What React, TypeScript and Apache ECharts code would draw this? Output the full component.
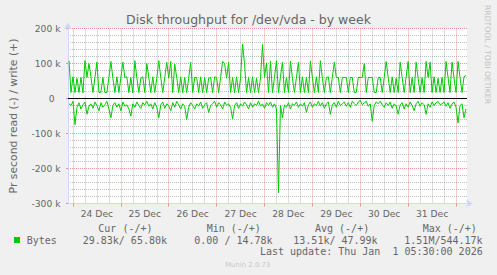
import React, { useEffect, useRef } from 'react';
import * as echarts from 'echarts';

// ---- data ----
const titleText = 'Disk throughput for /dev/vda - by week';
const yAxisName = 'Pr second read (-) / write (+)';
const dayLabels = ['24 Dec', '25 Dec', '26 Dec', '27 Dec', '28 Dec', '29 Dec', '30 Dec', '31 Dec'];
// hours relative to 24 Dec 00:00; one sample per hour
const firstHour = -2;
const rangeStartHour = -2.5;
const rangeEndHour = 197.5;
// write (+), in k bytes/s
const writeK = [
  108, 17, 62, 17, 58, 17, 60, 16, 108, 60, 100, 62, 17, 60, 104, 17, 18, 60, 17, 17,
  60, 106, 58, 17, 62, 17, 60, 104, 60, 62, 17, 60, 16, 108, 60, 17, 58, 62, 17, 100,
  60, 17, 62, 17, 58, 108, 60, 17, 60, 104, 58, 106, 17, 98, 60, 17, 62, 17, 60, 17,
  58, 104, 17, 60, 60, 17, 62, 17, 60, 17, 58, 60, 17, 62, 60, 17, 60, 106, 100, 58,
  104, 17, 60, 17, 62, 17, 58, 156, 98, 17, 60, 17, 62, 17, 58, 17, 60, 154, 60, 102,
  17, 106, 17, 60, 108, 17, 62, 104, 17, 60, 17, 106, 58, 17, 60, 104, 17, 62, 17, 60,
  17, 106, 60, 17, 62, 17, 108, 58, 17, 60, 62, 17, 60, 104, 60, 60, 17, 60, 60, 60,
  17, 60, 60, 17, 17, 60, 60, 60, 100, 17, 60, 60, 60, 17, 17, 60, 60, 17, 60, 106,
  60, 17, 62, 17, 58, 17, 104, 60, 17, 62, 106, 17, 60, 17, 104, 58, 17, 60, 17, 106,
  60, 104, 17, 62, 17, 58, 17, 60, 17, 106, 60, 17, 104, 58, 17, 106, 60, 17, 62, 66,
];
// read (-), in k bytes/s
const readK = [
  -15, -20, -8, -75, -25, -12, -30, -18, -10, -45, -22, -15, -28, -10, -20, -35, -12, -25, -18, -8,
  -30, -55, -20, -12, -25, -15, -35, -10, -22, -18, -30, -50, -15, -25, -10, -20, -28, -12, -18, -8,
  -22, -15, -30, -12, -25, -55, -18, -10, -28, -15, -20, -35, -12, -25, -8, -18, -30, -15, -22, -60,
  -25, -12, -20, -30, -15, -22, -10, -28, -18, -12, -40, -20, -15, -8, -25, -12, -18, -30, -10, -20,
  -15, -25, -58, -20, -12, -28, -15, -22, -10, -18, -30, -12, -25, -15, -20, -8, -22, -15, -28, -12,
  -20, -10, -25, -15, -30, -270, -20, -55, -18, -25, -12, -30, -15, -20, -10, -25, -15, -22, -12, -40,
  -18, -10, -25, -15, -20, -8, -22, -12, -28, -15, -10, -45, -18, -12, -25, -8, -20, -15, -10, -22,
  -12, -25, -8, -15, -20, -10, -5, -18, -12, -8, -22, -15, -65, -20, -10, -15, -8, -18, -25, -12,
  -20, -10, -28, -15, -22, -45, -18, -12, -30, -15, -25, -10, -20, -35, -15, -8, -22, -12, -18, -45,
  -15, -25, -10, -20, -12, -8, -18, -15, -10, -22, -12, -28, -15, -10, -25, -70, -20, -15, -55, -30,
];
const yMin = -300;
const yMax = 200;
const yStep = 100;
const seriesName = 'Bytes';
const legendHeaders = ['Cur (-/+)', 'Min (-/+)', 'Avg (-/+)', 'Max (-/+)'];
const legendValues = ['29.83k/ 65.80k', '0.00 / 14.78k', '13.51k/ 47.99k', '1.51M/544.17k'];
const lastUpdate = 'Last update: Thu Jan  1 05:30:00 2026';
const watermark = 'RRDTOOL / TOBI OETIKER';
const version = 'Munin 2.0.73';

// ---- styles ----
const FONT = "'DejaVu Sans', sans-serif";
const MONO = "'DejaVu Sans Mono', monospace";
const TXT = '#666666';
const AXIS = '#CFD6F8';
const GREEN = '#00CC00';
const MAJOR = 'rgba(230,70,70,0.55)';
const MINOR = 'rgba(130,130,130,0.5)';

const dayTicks = dayLabels.map((_, i) => i * 24).concat([dayLabels.length * 24]);
const labelTicks = dayLabels.map((_, i) => i * 24 + 12);
const minorTicks: number[] = [];
for (let h = 0; h <= rangeEndHour; h += 6) if (h % 24 !== 0) minorTicks.push(h);

const legendHeaderX = [98.3, 206.7, 315, 422.7];
const legendValueX = [82.7, 194.3, 293.3, 404.3];

export default function App() {
  const ref = useRef<HTMLDivElement>(null);
  useEffect(() => {
    if (!ref.current) return;
    const chart = echarts.init(ref.current, undefined, { renderer: 'svg' });
    const graphic: any[] = [
      {
        type: 'text', x: 487.5, y: 5, rotation: -Math.PI / 2,
        style: { text: watermark, fill: '#c4c4c4', font: `7.7px ${FONT}`, align: 'left', verticalAlign: 'middle' },
      },
      { type: 'rect', shape: { x: 14, y: 237, width: 6, height: 6 }, style: { fill: GREEN } },
      {
        type: 'text', x: 26.7, y: 240,
        style: { text: seriesName, fill: TXT, font: `10px ${MONO}`, align: 'left', verticalAlign: 'middle' },
      },
      ...legendHeaders.map((t, i) => ({
        type: 'text', x: legendHeaderX[i], y: 228,
        style: { text: t, fill: TXT, font: `10px ${MONO}`, align: 'left', verticalAlign: 'middle' },
      })),
      ...legendValues.map((t, i) => ({
        type: 'text', x: legendValueX[i], y: 240,
        style: { text: t, fill: TXT, font: `10px ${MONO}`, align: 'left', verticalAlign: 'middle' },
      })),
      {
        type: 'text', x: 482.7, y: 251.5,
        style: { text: lastUpdate, fill: TXT, font: `10px ${MONO}`, align: 'right', verticalAlign: 'middle' },
      },
      {
        type: 'text', x: 247.7, y: 264.5,
        style: { text: version, fill: '#c8c8c8', font: `6.9px ${FONT}`, align: 'center', verticalAlign: 'middle' },
      },
    ];

    chart.setOption({
      animation: false,
      backgroundColor: '#F0F0F0',
      title: {
        text: titleText, left: 'center', top: 12.5, padding: 0,
        textStyle: { fontSize: 12.5, fontWeight: 'normal', color: TXT, fontFamily: FONT },
      },
      grid: { left: 67, top: 28.5, width: 400, height: 175, show: true, backgroundColor: '#ffffff', borderWidth: 0, containLabel: false },
      xAxis: [
        {
          type: 'value', min: rangeStartHour, max: rangeEndHour, position: 'bottom',
          axisLine: { show: true, onZero: false, symbol: ['none', 'arrow'], symbolSize: [6, 7], symbolOffset: [0, 6], lineStyle: { color: AXIS, width: 1 } },
          axisTick: { show: true, customValues: dayTicks, length: 3, lineStyle: { color: MAJOR } },
          axisLabel: {
            customValues: labelTicks, color: TXT, fontSize: 9.2, fontFamily: FONT, margin: 5,
            formatter: (v: number) => dayLabels[Math.round((v - 12) / 24)] ?? '',
          },
          splitLine: { show: true, lineStyle: { color: MAJOR, type: [1, 1], width: 1 } },
        },
        {
          type: 'value', min: rangeStartHour, max: rangeEndHour, position: 'top',
          axisLine: { show: false }, axisLabel: { show: false },
          axisTick: { show: false, customValues: minorTicks },
          splitLine: { show: true, lineStyle: { color: MINOR, type: [1, 1], width: 1 } },
        },
      ],
      yAxis: {
        type: 'value', min: yMin, max: yMax, interval: yStep,
        name: yAxisName, nameLocation: 'middle', nameGap: 49,
        nameTextStyle: { color: TXT, fontSize: 10.8, fontFamily: FONT },
        axisLine: { show: true, onZero: false, symbol: ['none', 'arrow'], symbolSize: [6, 7], symbolOffset: [0, 6], lineStyle: { color: AXIS, width: 1 } },
        axisTick: { show: true, length: 2, lineStyle: { color: MAJOR } },
        axisLabel: {
          color: TXT, fontSize: 9.2, fontFamily: FONT, margin: 7.5,
          formatter: (v: number) => (v === 0 ? '{z|0}' : `${v} k`),
          rich: { z: { padding: [0, 6, 0, 0], color: TXT, fontSize: 9.2, fontFamily: FONT } },
        },
        splitLine: { show: true, lineStyle: { color: MAJOR, type: [1, 1], width: 1 } },
        minorTick: { show: false, splitNumber: 5 },
        minorSplitLine: { show: true, lineStyle: { color: MINOR, type: [1, 1], width: 1 } },
      },
      series: [
        {
          name: 'write', type: 'line', xAxisIndex: 0, symbol: 'none', showSymbol: false,
          data: writeK.map((v, i) => [firstHour + i, v]),
          lineStyle: { color: GREEN, width: 1 }, itemStyle: { color: GREEN },
          markLine: {
            silent: true, symbol: ['none', 'none'], label: { show: false },
            lineStyle: { color: '#000000', type: 'solid', width: 1 },
            data: [{ yAxis: 0 }],
          },
          z: 3,
        },
        {
          name: 'read', type: 'line', xAxisIndex: 0, symbol: 'none', showSymbol: false,
          data: readK.map((v, i) => [firstHour + i, v]),
          lineStyle: { color: GREEN, width: 1 }, itemStyle: { color: GREEN },
          z: 2,
        },
      ],
      graphic,
    });
    return () => chart.dispose();
  }, []);
  return <div ref={ref} style={{ position: 'fixed', left: 0, top: 0, width: 497, height: 275 }} />;
}
